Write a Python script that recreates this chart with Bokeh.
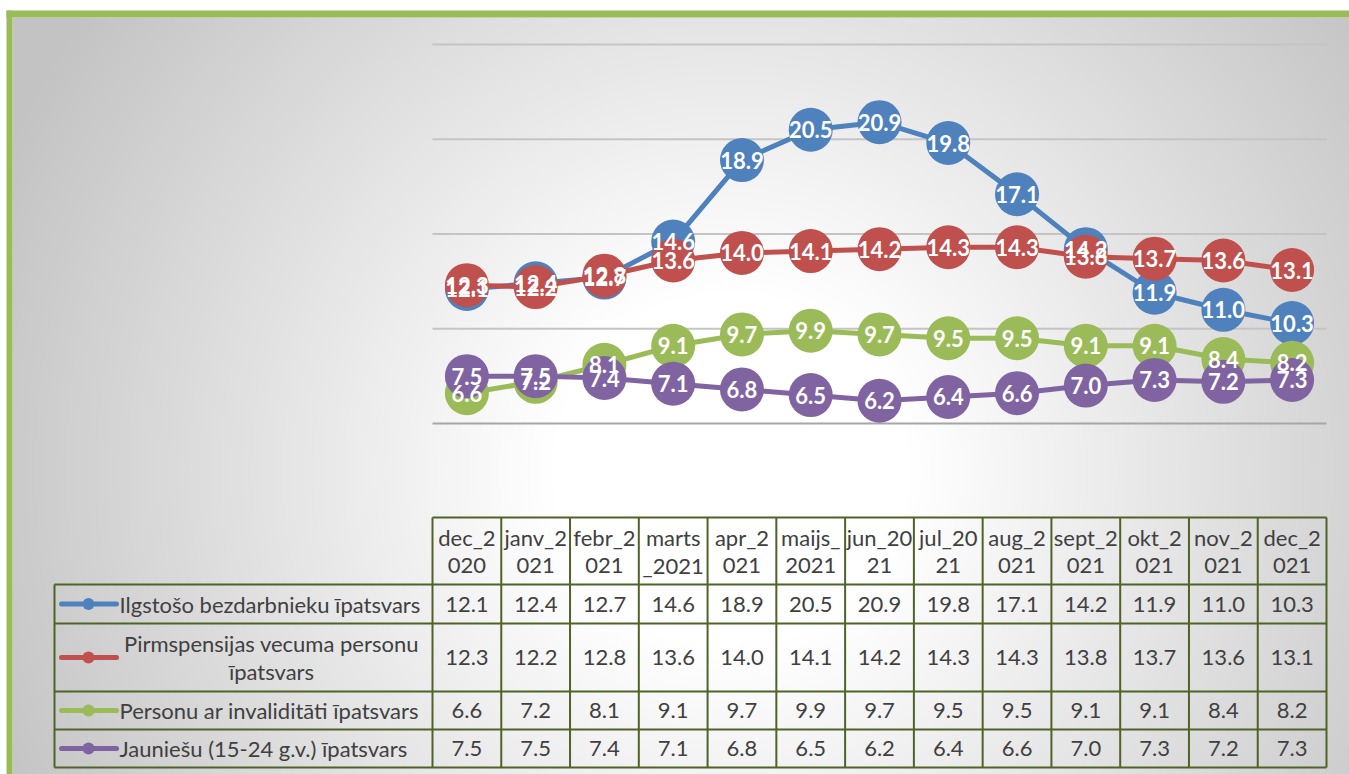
import numpy as np
from bokeh.plotting import figure
from bokeh.models import Range1d
from bokeh.core.properties import value
from bokeh.embed import file_html
from bokeh.resources import INLINE

# ---------------- data ----------------
categories = ["dec_2020", "janv_2021", "febr_2021", "marts_2021", "apr_2021", "maijs_2021",
              "jun_2021", "jul_2021", "aug_2021", "sept_2021", "okt_2021", "nov_2021", "dec_2021"]
header_labels = [["dec_2", "020"], ["janv_2", "021"], ["febr_2", "021"], ["marts", "_2021"],
                 ["apr_2", "021"], ["maijs_", "2021"], ["jun_20", "21"], ["jul_20", "21"],
                 ["aug_2", "021"], ["sept_2", "021"], ["okt_2", "021"], ["nov_2", "021"],
                 ["dec_2", "021"]]
series_names = [["Ilgstošo bezdarbnieku īpatsvars"],
                ["Pirmspensijas vecuma personu", "īpatsvars"],
                ["Personu ar invaliditāti īpatsvars"],
                ["Jauniešu (15-24 g.v.) īpatsvars"]]
ilgstoso = [12.1, 12.4, 12.7, 14.6, 18.9, 20.5, 20.9, 19.8, 17.1, 14.2, 11.9, 11.0, 10.3]
pirmspensijas = [12.3, 12.2, 12.8, 13.6, 14.0, 14.1, 14.2, 14.3, 14.3, 13.8, 13.7, 13.6, 13.1]
invaliditate = [6.6, 7.2, 8.1, 9.1, 9.7, 9.9, 9.7, 9.5, 9.5, 9.1, 9.1, 8.4, 8.2]
jauniesi = [7.5, 7.5, 7.4, 7.1, 6.8, 6.5, 6.2, 6.4, 6.6, 7.0, 7.3, 7.2, 7.3]
series = [ilgstoso, pirmspensijas, invaliditate, jauniesi]
colors = ["#4f81bd", "#c0504d", "#9bbb59", "#8064a2"]
grid_values = [5, 10, 15, 20, 25]

# ---------------- layout (page pixels) ----------------
W, H = 1349, 774
OX, OY = 0, 0
COL_L, COL_R = 432, 1326
N = len(categories)
COLW = (COL_R - COL_L) / N
Y_BASE, V_BASE, YPU = 423, 5, 18.95
FONT = value("Lato")
TXT = "#404040"
BORDER = "#4f6228"
FS = "22px"


def dx(px):
    return (px - COL_L) / COLW - 0.5


def dy(py):
    return V_BASE + (Y_BASE - py) / YPU


p = figure(width=W, height=H, output_backend="svg", toolbar_location=None,
           x_range=Range1d(dx(OX), dx(OX + W)), y_range=Range1d(dy(OY + H), dy(OY)),
           min_border=0, outline_line_color=None, background_fill_color="white",
           border_fill_color="white")
p.axis.visible = False
p.grid.visible = False

# ---------------- background gradient ----------------
BX0, BX1, BY0, BY1 = 12, 1349, 17, 774
hw, hh = (BX1 - BX0) // 2, (BY1 - BY0) // 2
xs = np.linspace(BX0, BX1, hw)
ys = np.linspace(BY1, BY0, hh)  # bottom row first
XX, YY = np.meshgrid(xs, ys)
d = np.sqrt((XX - 730.0) ** 2 + (YY - 470.0) ** 2)
t = np.clip((d - 180.0) / 620.0, 0, 1)
g = (255 - 60 * t).astype(np.uint8)
img = np.empty((hh, hw), dtype=np.uint32)
view = img.view(dtype=np.uint8).reshape((hh, hw, 4))
view[:, :, 0] = g
view[:, :, 1] = g
view[:, :, 2] = g
view[:, :, 3] = 255
p.image_rgba(image=[img], x=dx(BX0), y=dy(BY1), dw=dx(BX1) - dx(BX0), dh=dy(BY0) - dy(BY1))

# green frame
p.quad(left=[dx(6)], right=[dx(1349)], top=[dy(10)], bottom=[dy(17)], fill_color="#9bbb59", line_color=None)
p.quad(left=[dx(6)], right=[dx(12)], top=[dy(10)], bottom=[dy(774)], fill_color="#9bbb59", line_color=None)

# ---------------- gridlines ----------------
gcol = ["#a6a6a6" if v == grid_values[0] else "#c4c4c4" for v in grid_values]
p.segment(x0=[-0.5] * len(grid_values), x1=[N - 0.5] * len(grid_values), y0=grid_values, y1=grid_values,
          line_color=gcol, line_width=2)

# ---------------- series ----------------
xi = list(range(N))
for vals, c in zip(series, colors):
    p.line(xi, vals, line_color=c, line_width=5, line_join="round")
    p.scatter(xi, vals, size=44, fill_color=c, line_color=None)
for vals in series:
    p.text(xi, vals, text=[f"{v:.1f}" for v in vals], text_align="center", text_baseline="middle",
           text_color="white", text_font=FONT, text_font_style="bold", text_font_size="22px")

# ---------------- data table ----------------
T_TOP = 517
ROWS = [584, 623, 691, 729, 767]
LAB_L = 54
col_edges = [COL_L + k * COLW for k in range(N + 1)]

# header text
for k, lines in enumerate(header_labels):
    for j, s in enumerate(lines):
        p.text([k], [dy(537 + 28 * j)], text=[s], text_align="center", text_baseline="middle",
               text_color=TXT, text_font=FONT, text_font_size=FS)

# values and row labels
for r, (vals, c, name) in enumerate(zip(series, colors, series_names)):
    top, bot = ROWS[r], ROWS[r + 1]
    cy = (top + bot) / 2
    p.text(xi, [dy(cy)] * N, text=[f"{v:.1f}" for v in vals], text_align="center", text_baseline="middle",
           text_color=TXT, text_font=FONT, text_font_size=FS)
    # legend key
    p.segment(x0=[dx(61)], x1=[dx(116)], y0=[dy(cy)], y1=[dy(cy)], line_color=c, line_width=5, line_cap="round")
    p.scatter([dx(88)], [dy(cy)], size=12, fill_color=c, line_color=None)
    if len(name) == 1:
        p.text([dx(119)], [dy(cy)], text=name, text_align="left", text_baseline="middle",
               text_color=TXT, text_font=FONT, text_font_size=FS)
    else:
        for j, s in enumerate(name):
            p.text([dx(271)], [dy(cy - 14 + 28 * j)], text=[s], text_align="center", text_baseline="middle",
                   text_color=TXT, text_font=FONT, text_font_size=FS)

# table borders
x0s, x1s, y0s, y1s = [], [], [], []
for e in col_edges:
    x0s.append(dx(e)); x1s.append(dx(e)); y0s.append(dy(T_TOP)); y1s.append(dy(ROWS[-1]))
x0s.append(dx(LAB_L)); x1s.append(dx(LAB_L)); y0s.append(dy(ROWS[0])); y1s.append(dy(ROWS[-1]))
x0s.append(dx(COL_L)); x1s.append(dx(COL_R)); y0s.append(dy(T_TOP)); y1s.append(dy(T_TOP))
for yy in ROWS:
    x0s.append(dx(LAB_L)); x1s.append(dx(COL_R)); y0s.append(dy(yy)); y1s.append(dy(yy))
p.segment(x0=x0s, x1=x1s, y0=y0s, y1=y1s, line_color=BORDER, line_width=2)

open("out.html", "w").write(file_html(p, INLINE))
